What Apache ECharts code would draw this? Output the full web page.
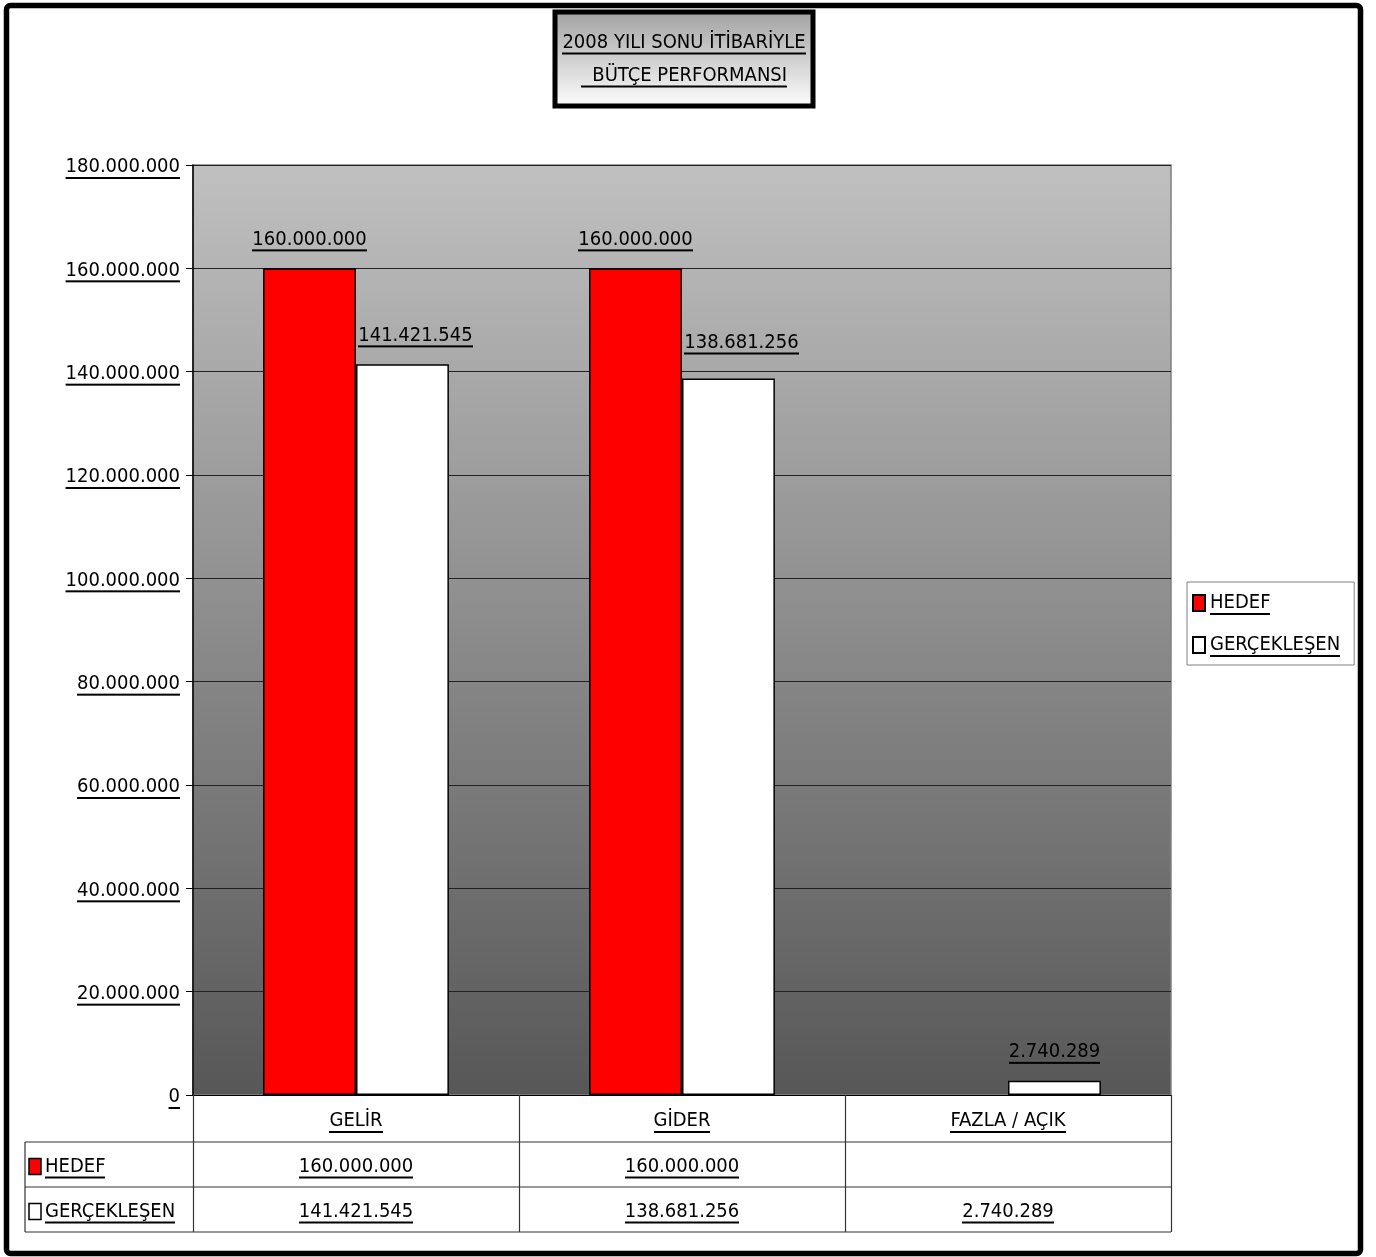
<!DOCTYPE html>
<html><head><meta charset="utf-8">
<script src="https://cdn.jsdelivr.net/npm/echarts@6/dist/echarts.min.js"></script>
<style>html,body{margin:0;padding:0;background:#fff}#c{width:1376px;height:1257px}</style>
</head><body><div id="c"></div>
<script>
// ---- data ----
const titleLines = ['2008 YILI SONU İTİBARİYLE', '  BÜTÇE PERFORMANSI'];
const categories = ['GELİR', 'GİDER', 'FAZLA / AÇIK'];
const seriesNames = ['HEDEF', 'GERÇEKLEŞEN'];
const hedef = [160000000, 160000000, null];
const gerceklesen = [141421545, 138681256, 2740289];
const yMin = 0, yMax = 180000000, yStep = 20000000;

// ---- styles ----
const FONT = '"Liberation Sans Narrow", "Arial Narrow", "DejaVu Sans Condensed", sans-serif';
const FS = 20;
const seriesColors = ['#ff0000', '#ffffff'];
const gercLabelOffsets = [[13, 0], [13, -7], [0, 0]];

function fmt(v) { if (v == null) return ''; return String(Math.round(v)).replace(/\B(?=(\d{3})+(?!\d))/g, '.'); }

// underline image used as the background of rich text tokens
const ul = document.createElement('canvas'); ul.width = 4; ul.height = 28;
const ug = ul.getContext('2d'); ug.fillStyle = '#000'; ug.fillRect(0, 24, 4, 2);
function rich(lh, va) {
  return { u: { fontFamily: FONT, fontSize: FS, color: '#000', height: 28, lineHeight: lh || 28,
    verticalAlign: va || 'middle', backgroundColor: { image: ul } } };
}
const U = s => '{u|' + s + '}';

const chart = echarts.init(document.getElementById('c'));

const option = {
  animation: false,
  backgroundColor: '#fff',
  grid: {
    left: 193, right: 205, top: 165, bottom: 162, show: true,
    backgroundColor: new echarts.graphic.LinearGradient(0, 0, 0, 1, [
      { offset: 0, color: '#c0c0c0' }, { offset: 1, color: '#575757' }]),
    borderColor: '#808080', borderWidth: 1.5
  },
  legend: {
    orient: 'vertical', left: 1187, top: 582, padding: [7, 14, 6, 5], itemGap: 14,
    itemWidth: 12, itemHeight: 16, icon: 'rect', selectedMode: false,
    backgroundColor: '#fff', borderColor: '#808080', borderWidth: 1,
    data: seriesNames, formatter: n => U(n), textStyle: { rich: rich() }
  },
  xAxis: {
    type: 'category', data: categories,
    axisLine: { lineStyle: { color: '#000', width: 1 } },
    axisTick: { show: true, length: 137, interval: 0, alignWithLabel: false, lineStyle: { color: '#333', width: 1.2 } },
    axisLabel: { margin: 12, interval: 0, formatter: v => U(v), rich: rich() },
    splitLine: { show: false }
  },
  yAxis: {
    type: 'value', min: yMin, max: yMax, interval: yStep,
    axisLine: { show: true, lineStyle: { color: '#000', width: 1.5 } },
    axisTick: { show: true, length: 7, lineStyle: { color: '#000', width: 1 } },
    axisLabel: { margin: 13, formatter: v => U(fmt(v)), rich: rich(32, 'bottom') },
    splitLine: { show: true, lineStyle: { color: '#222', width: 1 } }
  },
  series: [
    {
      name: seriesNames[0], type: 'bar', data: hedef, barGap: '0%', barCategoryGap: '43%',
      itemStyle: { color: seriesColors[0], borderColor: '#000', borderWidth: 1.5 },
      label: { show: true, position: 'top', distance: 15, formatter: p => U(fmt(p.value)), rich: rich() }
    },
    {
      name: seriesNames[1], type: 'bar',
      data: gerceklesen.map((v, i) => ({ value: v, label: { offset: gercLabelOffsets[i] } })),
      barGap: '0%', barCategoryGap: '43%',
      itemStyle: { color: seriesColors[1], borderColor: '#000', borderWidth: 1.5 },
      label: { show: true, position: 'top', distance: 15, formatter: p => U(fmt(p.value)), rich: rich() }
    }
  ]
};
chart.setOption(option);

// ---- data table, title, frame ----
const cx = categories.map(c => chart.convertToPixel({ xAxisIndex: 0 }, c));
const bw = cx[1] - cx[0];
const gRight = cx[cx.length - 1] + bw / 2;
const y0 = chart.convertToPixel({ yAxisIndex: 0 }, 0);
const y1 = y0 + 47, y2 = y1 + 45, y3 = y2 + 45;
const tLeft = 25;
const lineStyle = { stroke: '#333', lineWidth: 1.2 };
const els = [];
[y1, y2, y3].forEach(y => els.push({ type: 'line', shape: { x1: tLeft, y1: y, x2: gRight, y2: y }, style: lineStyle, silent: true }));
els.push({ type: 'line', shape: { x1: tLeft, y1: y1, x2: tLeft, y2: y3 }, style: lineStyle, silent: true });
const rows = [hedef, gerceklesen];
const rowMid = [(y1 + y2) / 2 + 2, (y2 + y3) / 2 + 2];
rows.forEach((vals, r) => {
  els.push({ type: 'rect', shape: { x: tLeft + 4, y: rowMid[r] - 8, width: 12, height: 16 },
    style: { fill: seriesColors[r], stroke: '#000', lineWidth: 1.5 }, silent: true });
  els.push({ type: 'text', style: { text: U(seriesNames[r]), x: tLeft + 20, y: rowMid[r], align: 'left', verticalAlign: 'middle', rich: rich() }, silent: true });
  vals.forEach((v, i) => {
    if (v == null) return;
    els.push({ type: 'text', style: { text: U(fmt(v)), x: cx[i], y: rowMid[r], align: 'center', verticalAlign: 'middle', rich: rich() }, silent: true });
  });
});
// title box
els.push({ type: 'rect', shape: { x: 555, y: 12, width: 258, height: 94 },
  style: { fill: new echarts.graphic.LinearGradient(0, 0, 0, 1, [{ offset: 0, color: '#a0a0a0' }, { offset: 1, color: '#ffffff' }]), stroke: '#000', lineWidth: 5 }, silent: true });
els.push({ type: 'text', style: { text: titleLines.map(U).join('\n'), x: 684, y: 59, align: 'center', verticalAlign: 'middle', rich: rich(33) }, silent: true });
// outer frame
els.push({ type: 'rect', shape: { x: 6.5, y: 5.5, width: 1354, height: 1248, r: 4 }, style: { fill: null, stroke: '#000', lineWidth: 5.5 }, silent: true, z: 10 });
chart.setOption({ graphic: { elements: els } });
</script>
</body></html>
